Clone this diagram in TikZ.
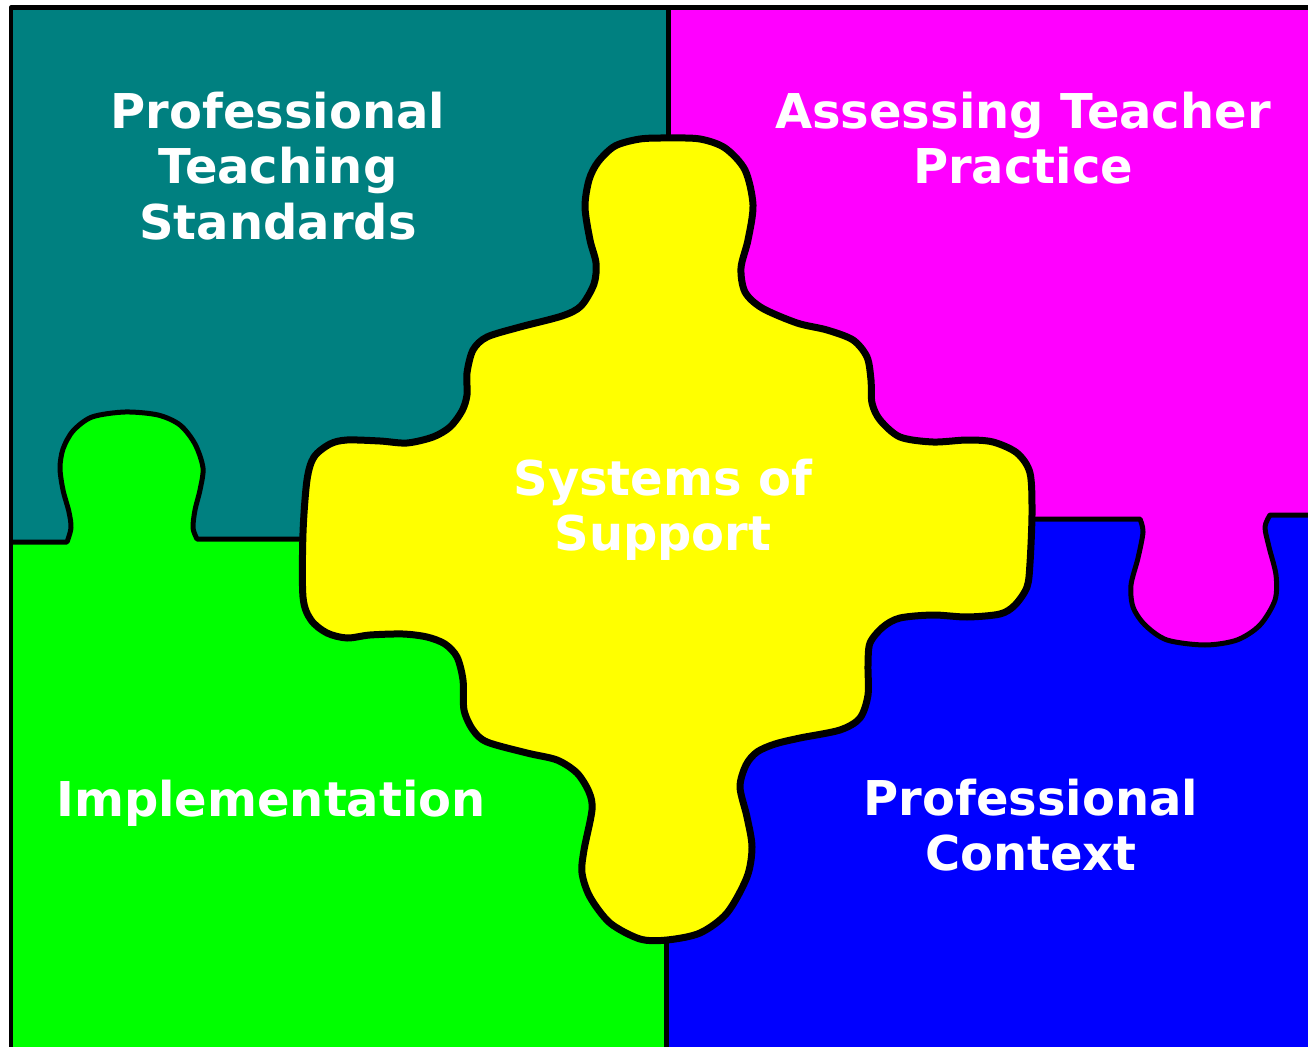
\documentclass[tikz,border=0pt]{standalone}
\usepackage{fontspec}
\setmainfont{DejaVu Sans}
\definecolor{stdteal}{RGB}{0,128,128}
\definecolor{assessmagenta}{RGB}{255,0,255}
\definecolor{implgreen}{RGB}{0,255,0}
\definecolor{ctxblue}{RGB}{0,0,255}
\definecolor{supportyellow}{RGB}{255,255,0}

\begin{document}
\begin{tikzpicture}[
    x=0.02cm, y=-0.02cm,
    edge/.style={line width=0.1cm, line join=round},
    piece/.style={line width=0.14cm, line join=round},
    label/.style={text=white, align=center, font=\fontsize{27.3}{31.6}\selectfont\bfseries}
]

% === LAYOUT (pixel grid, y downwards) ===
% Quadrants meet at x=667, y=519..542
% Green tab pushes up into teal, magenta tab pushes down into blue
% Yellow centre piece covers the crossing

\useasboundingbox (0,0) rectangle (1308,1047);

% Quadrant fills
\fill[stdteal] (11,8) rectangle (668,600);
\fill[assessmagenta] (668,8) rectangle (1308,700);

\fill[implgreen] (11,1047) -- (11,542) -- plot[smooth] coordinates {(67,542) (71,528) (69,512) (63,490) (60,468) (63,449) (73,431) (92,417) (125,412) (158,415) (180,425) (195,444) (203,468) (200,490) (195,510) (193,528) (197,539)} -- (668,539) -- (668,1047) -- cycle;

\fill[ctxblue] (666,1047) -- (666,519) -- plot[smooth] coordinates {(1140,519) (1143,532) (1138,558) (1131,585) (1133,607) (1145,625) (1167,640) (1205,645) (1237,640) (1260,625) (1275,600) (1276,575) (1269,547) (1265,527) (1270,515)} -- (1308,515) -- (1308,1047) -- cycle;

% Outer border and dividers
\draw[edge] (11,1047) -- (11,8) -- (1308,8);
\draw[edge] (668,8) -- (668,150);
\draw[edge] (666,930) -- (666,1047);
\draw[edge] (11,542) -- plot[smooth] coordinates {(67,542) (71,528) (69,512) (63,490) (60,468) (63,449) (73,431) (92,417) (125,412) (158,415) (180,425) (195,444) (203,468) (200,490) (195,510) (193,528) (197,539)} -- (320,539);
\draw[edge] (1020,519) -- plot[smooth] coordinates {(1140,519) (1143,532) (1138,558) (1131,585) (1133,607) (1145,625) (1167,640) (1205,645) (1237,640) (1260,625) (1275,600) (1276,575) (1269,547) (1265,527) (1270,515)} -- (1308,515);

% Centre piece
\draw[piece, fill=supportyellow] plot[smooth cycle] coordinates {
    (668,138) (700,139) (725,148) (745,170) (753,205) (748,240) (741,268) (745,292) (762,308)
    (797,323) (827,330) (853,340) (867,357) (871,380) (872,403) (880,420) (900,437)
    (933,442) (967,440) (993,442) (1017,453) (1030,473) (1032,513) (1030,563) (1027,587)
    (1015,605) (1000,614) (967,617) (933,615) (900,618) (883,627) (870,643) (868,665)
    (868,695) (860,718) (840,730) (800,738) (775,744) (757,752) (746,765) (740,787)
    (747,817) (752,847) (747,877) (727,913) (700,933) (667,940) (640,939) (610,923)
    (590,897) (582,873) (584,850) (592,810) (589,792) (577,773) (557,760) (527,753)
    (487,742) (473,730) (464,710) (463,680) (457,657) (445,644) (427,637) (403,634)
    (370,635) (347,638) (327,633) (311,620) (303,597) (303,533) (307,480) (314,457)
    (330,444) (347,440) (380,441) (407,443) (433,437) (450,427) (462,411) (467,395)
    (467,373) (473,350) (487,337) (520,327) (562,316) (581,306) (594,284) (596,263)
    (590,240) (585,207) (589,180) (598,162) (615,146) (640,139)};

% Labels
\node[label] (standards) at (278,166) {Professional\\Teaching\\Standards};
\node[label] (assessing) at (1023,138) {Assessing Teacher\\Practice};
\node[label] (support) at (663,510) {Systems of\\Support};
\node[label] (implementation) at (271,803) {Implementation};
\node[label] (context) at (1031,825) {Professional\\Context};

\end{tikzpicture}
\end{document}
